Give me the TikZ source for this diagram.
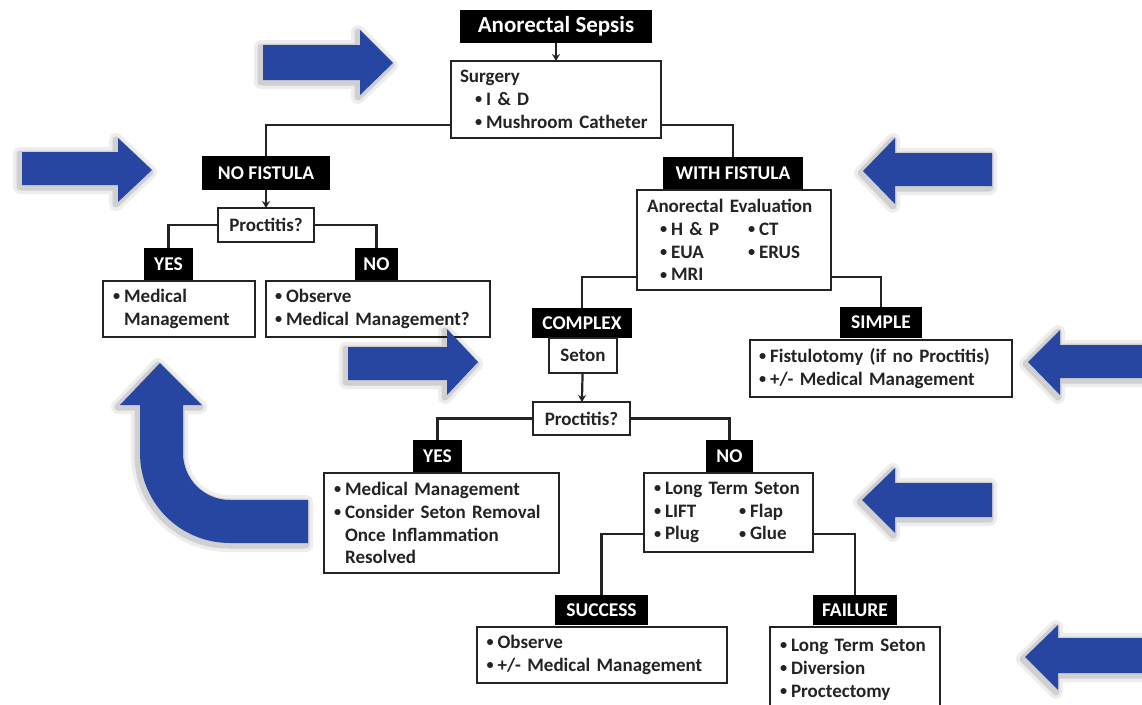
\documentclass[tikz,border=0pt]{standalone}
\usepackage{fontspec}
\setmainfont{Carlito}
\usetikzlibrary{positioning, arrows.meta}
\definecolor{arrowblue}{RGB}{38,70,162}
\definecolor{inkgray}{RGB}{35,35,35}
\newcommand{\itm}{\raisebox{0.2ex}{\scalebox{0.75}{\textbullet}}\hspace{4pt}} % bullet of the lists
\newcommand{\hang}{\hphantom{\itm}} % hanging indent after a bullet
\tikzset{>={Stealth[length=7pt,width=8pt]}, % small filled heads
lab/.style={fill=black, text=white, font=\bfseries\fontsize{19.5}{22}\selectfont, inner sep=0pt, outer sep=0pt}, % black headings
box/.style={draw=inkgray, line width=2pt, fill=white, text=inkgray, font=\bfseries\fontsize{19}{22.8}\selectfont, align=left, inner xsep=10pt, inner ysep=0pt, outer sep=0pt}, % white boxes
conn/.style={draw=inkgray, line width=2.2pt}, % connectors
bigarrow/.style={fill=arrowblue, preaction={draw=black, opacity=.07, line width=14pt, line join=round, transform canvas={shift={(-2pt,-2pt)}}}, preaction={draw=black, opacity=.12, line width=7pt, line join=round, transform canvas={shift={(-2pt,-2pt)}}}}, % blue pointers
}

\begin{document}
\begin{tikzpicture}[x=1pt, y=-1pt]
  \useasboundingbox (0,0) rectangle (1142,704);
  \clip (0,0) rectangle (1142,704);
  \fill[white] (0,0) rectangle (1142,704);

  \node[lab, minimum width=192pt, minimum height=33pt, font=\bfseries\fontsize{23}{26}\selectfont] (sepsis) at (556,26.5) {Anorectal Sepsis};
  \node[box, text width=196pt, minimum height=77pt, inner xsep=7pt, below=18pt of sepsis] (surgery) {\hspace*{2pt}Surgery\\\hspace*{17pt}\itm I \& D\\\hspace*{17pt}\itm Mushroom Catheter};

  % no fistula side
  \node[lab, minimum width=128pt, minimum height=34pt] (nofist) at (266,173) {NO FISTULA};
  \node[box, minimum width=96pt, minimum height=34pt, inner xsep=0pt, below=18pt of nofist] (proc1) {Proctitis?};
  \node[lab, minimum width=49pt, minimum height=32pt] (yes1) at (168.5,264) {YES};
  \node[lab, minimum width=43pt, minimum height=32pt] (no1) at (376.5,264) {NO};
  \node[box, text width=132pt, minimum height=56pt, below=1pt of yes1, xshift=10.5pt] (med1) {\itm Medical\\\hang Management};
  \node[box, text width=206pt, minimum height=56pt, inner xsep=9pt, below=1pt of no1, xshift=1.5pt] (obs1) {\itm Observe\\\itm Medical Management?};

  % with fistula side
  \node[lab, minimum width=140pt, minimum height=33pt] (withfist) at (733,173.5) {WITH FISTULA};
  \node[box, text width=174pt, minimum height=100pt, below=0pt of withfist, xshift=1pt] (eval) {Anorectal Evaluation\\\hspace*{13pt}\makebox[88pt][l]{\itm H \& P}\itm CT\\\hspace*{13pt}\makebox[88pt][l]{\itm EUA}\itm ERUS\\\hspace*{13pt}\itm MRI};
  \node[lab, minimum width=100pt, minimum height=30pt] (complex) at (582,323) {COMPLEX};
  \node[box, minimum width=68pt, minimum height=35pt, inner xsep=0pt, below=0pt of complex, xshift=1pt] (seton) {Seton};
  \node[lab, minimum width=82pt, minimum height=31pt] (simple) at (881,322.5) {SIMPLE};
  \node[box, text width=244pt, minimum height=57pt, inner xsep=9pt, below=2pt of simple] (simplelist) {\itm Fistulotomy (if no Proctitis)\\\itm +/- Medical Management};

  % complex branch
  \node[box, minimum width=97pt, minimum height=33pt, inner xsep=0pt, below=29pt of seton, xshift=-1.5pt] (proc2) {Proctitis?};
  \node[lab, minimum width=49pt, minimum height=32pt] (yes2) at (437.5,456) {YES};
  \node[lab, minimum width=47pt, minimum height=32pt] (no2) at (729.5,456) {NO};
  \node[box, text width=215pt, minimum height=100pt, below=1pt of yes2, xshift=4pt] (yeslist) {\itm Medical Management\\\itm Consider Seton Removal\\\hang Once Inflammation\\\hang Resolved};
  \node[box, text width=149pt, minimum height=79pt, below=1pt of no2, xshift=-1pt] (nolist) {\itm Long Term Seton\\\makebox[85pt][l]{\itm LIFT}\itm Flap\\\makebox[85pt][l]{\itm Plug}\itm Glue};
  \node[lab, minimum width=93pt, minimum height=30pt] (success) at (601.5,610) {SUCCESS};
  \node[lab, minimum width=84pt, minimum height=30pt] (failure) at (855,610) {FAILURE};
  \node[box, text width=230pt, minimum height=56pt, below=2pt of success] (successlist) {\itm Observe\\\itm +/- Medical Management};
  \node[box, text width=150pt, minimum height=85pt, below=2pt of failure] (failurelist) {\itm Long Term Seton\\\itm Diversion\\\itm Proctectomy};

  \draw[conn, ->] (sepsis) -- (surgery);
  \draw[conn] ([yshift=-25.5pt]surgery.west) -| (nofist.north);
  \draw[conn] ([yshift=-25.5pt]surgery.east) -| (withfist.north);
  \draw[conn, ->] (nofist) -- (proc1);
  \draw[conn] (proc1.west) -| (yes1.north);
  \draw[conn] (proc1.east) -| (no1.north);
  \draw[conn] ([yshift=-37pt]eval.west) -| (complex.north);
  \draw[conn] ([yshift=-37pt]eval.east) -| (simple.north);
  \draw[conn, ->] (seton) -- (proc2);
  \draw[conn] (proc2.west) -| (yes2.north);
  \draw[conn] (proc2.east) -| (no2.north);
  \draw[conn] ([yshift=-21.5pt]nolist.west) -| (success.north);
  \draw[conn] ([yshift=-21.5pt]nolist.east) -| (failure.north);

  % blue pointers
  \fill[bigarrow] (263,45) -- (360,45) -- (360,30) -- (393,63) -- (360,95) -- (360,80) -- (263,80) -- cycle;
  \fill[bigarrow] (22,152) -- (118,152) -- (118,138) -- (152,170) -- (118,202) -- (118,185) -- (22,185) -- cycle;
  \fill[bigarrow] (992,153) -- (895,153) -- (895,138) -- (863,171) -- (895,204) -- (895,186) -- (992,186) -- cycle;
  \fill[bigarrow] (348,347) -- (447,347) -- (447,329) -- (478,362) -- (447,395) -- (447,380) -- (348,380) -- cycle;
  \fill[bigarrow] (1160,345) -- (1060,345) -- (1060,330) -- (1028,362) -- (1060,395) -- (1060,378) -- (1160,378) -- cycle;
  \fill[bigarrow] (992,483) -- (895,483) -- (895,468) -- (862,500) -- (895,533) -- (895,517) -- (992,517) -- cycle;
  \fill[bigarrow] (1160,638) -- (1058,638) -- (1058,625) -- (1025,657) -- (1058,690) -- (1058,673) -- (1160,673) -- cycle;
  \fill[bigarrow] (308,500) -- (230,500) .. controls (204,500) and (183,479) .. (183,453) -- (183,405) -- (202,405) -- (160,363) -- (120,405) -- (140,405) -- (140,453) .. controls (140,503) and (180,543) .. (230,543) -- (308,543) -- cycle;
\end{tikzpicture}
\end{document}
